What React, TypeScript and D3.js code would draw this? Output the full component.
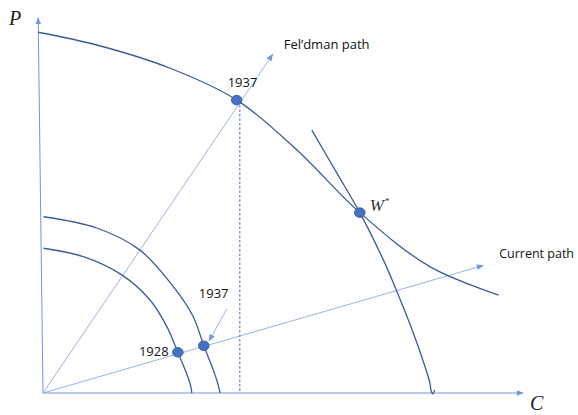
import React from "react";
import * as d3 from "d3";

// axes run 0..100 in both directions (consumption C, producer goods P)
const bigPpfC = [-1, 11.2, 26.5, 40.4, 52.9, 66.0, 80.6, 94.9];
const bigPpfP = [96.2, 92.8, 86.6, 78.1, 64.8, 48.1, 33.7, 26.1];

const indiffC = [56.0, 61.2, 66.0, 70.9, 73.3, 77.15, 79.6, 80.6, 80.9, 81.2, 81.6];
const indiffP = [70.1, 58.7, 48.1, 35.5, 28.4, 16.0, 7.0, 2.7, 0.4, -0.2, 0.8];

const ppf1937C = [0.1, 11.2, 20.2, 27.15, 31.3, 33.5, 35.5, 36.5, 36.9];
const ppf1937P = [47.0, 44.0, 38.1, 28.35, 20.35, 12.6, 6.1, 2.1, 0];

const ppf1928C = [0.1, 8.4, 16.4, 22.3, 25.8, 28.1, 29.9, 30.8, 31.0];
const ppf1928P = [38.6, 36.35, 31.5, 24.8, 17.7, 10.85, 5.25, 1.7, 0];

const feldmanEnd = [47.85, 90.3];
const currentEnd = [91.7, 34.0];
const dashedC = 41.0;
const dashedTop = 76.8;

const pointNames = ["1937top", "W", "1937low", "1928"];
const pointC = [40.35, 66.0, 33.5, 28.1];
const pointP = [78.1, 48.1, 12.6, 10.85];

const noteArrowFrom = [38.3, 22.4];
const noteArrowTo = [34.6, 13.9];

const W = 578;
const H = 415;

const x = d3.scaleLinear().domain([0, 100]).range([43, 523]);
const y = d3.scaleLinear().domain([0, 100]).range([393, 18]);

const curveColor = "#3A5A9C";
const axisColor = "#7396D8";
const pathColor = "#90ABDD";
const sans = "'Open Sans', 'Liberation Sans', sans-serif";
const serif = "'Liberation Serif', 'DejaVu Serif', serif";

const line = d3
  .line<[number, number]>()
  .x((d) => x(d[0]))
  .y((d) => y(d[1]))
  .curve(d3.curveCatmullRom.alpha(0.5));

const zip = (a: number[], b: number[]) =>
  a.map((v, i) => [v, b[i]] as [number, number]);

const App = () => {
  const pts = pointNames.map((n, i) => ({ n, cx: x(pointC[i]), cy: y(pointP[i]) }));
  const p = Object.fromEntries(pts.map((d) => [d.n, d]));

  return (
    <svg
      width={W}
      height={H}
      style={{ position: "absolute", left: 0, top: 0, background: "#fff" }}
    >
      <defs>
        <marker id="axArrow" viewBox="0 0 10 10" refX="9" refY="5" markerWidth="7" markerHeight="7" orient="auto">
          <path d="M0,1 L10,5 L0,9 z" fill={axisColor} />
        </marker>
        <marker id="pArrow" viewBox="0 0 10 10" refX="9" refY="5" markerWidth="8" markerHeight="8" orient="auto">
          <path d="M0,1 L10,5 L0,9 z" fill={axisColor} />
        </marker>
      </defs>

      {/* axes */}
      <line x1={x(0)} y1={y(0)} x2={x(-1)} y2={y(100)} stroke={axisColor} strokeWidth={1} markerEnd="url(#axArrow)" />
      <line x1={x(0)} y1={y(0)} x2={x(100)} y2={y(0)} stroke={axisColor} strokeWidth={1} markerEnd="url(#axArrow)" />

      {/* growth paths */}
      <line x1={x(0)} y1={y(0)} x2={x(feldmanEnd[0])} y2={y(feldmanEnd[1])} stroke={pathColor} strokeWidth={0.9} markerEnd="url(#pArrow)" />
      <line x1={x(0)} y1={y(0)} x2={x(currentEnd[0])} y2={y(currentEnd[1])} stroke={pathColor} strokeWidth={0.9} markerEnd="url(#pArrow)" />

      {/* dashed drop line */}
      <line x1={x(dashedC)} y1={y(dashedTop)} x2={x(dashedC)} y2={y(0)} stroke="#5B85D0" strokeWidth={1.2} strokeDasharray="2.5,2" />

      {/* curves */}
      <path d={line(zip(bigPpfC, bigPpfP)) || ""} fill="none" stroke={curveColor} strokeWidth={1.3} />
      <path d={line(zip(indiffC, indiffP)) || ""} fill="none" stroke={curveColor} strokeWidth={1.3} />
      <path d={line(zip(ppf1937C, ppf1937P)) || ""} fill="none" stroke={curveColor} strokeWidth={1.3} />
      <path d={line(zip(ppf1928C, ppf1928P)) || ""} fill="none" stroke={curveColor} strokeWidth={1.3} />

      {/* note arrow to lower 1937 point */}
      <line
        x1={x(noteArrowFrom[0])}
        y1={y(noteArrowFrom[1])}
        x2={x(noteArrowTo[0])}
        y2={y(noteArrowTo[1])}
        stroke={pathColor}
        strokeWidth={0.9}
        markerEnd="url(#pArrow)"
      />

      {/* points */}
      {pts.map((d) => (
        <ellipse key={d.n} cx={d.cx} cy={d.cy} rx={5.3} ry={4.8} fill="#4472C4" stroke="#2F528F" strokeWidth={0.8} />
      ))}

      {/* labels */}
      <text x={p["1937top"].cx - 9} y={p["1937top"].cy - 13} fontFamily={sans} fontSize={13} fill="#111">1937</text>
      <text x={p["1937low"].cx - 5} y={p["1937low"].cy - 48} fontFamily={sans} fontSize={13} fill="#111">1937</text>
      <text x={p["1928"].cx - 39} y={p["1928"].cy + 4} fontFamily={sans} fontSize={13} fill="#111">1928</text>
      <text x={x(feldmanEnd[0]) + 11} y={y(feldmanEnd[1]) - 5} fontFamily={sans} fontSize={13} fill="#111">Fel’dman path</text>
      <text x={x(currentEnd[0]) + 16} y={y(currentEnd[1]) - 8} fontFamily={sans} fontSize={12.5} fill="#111">Current path</text>

      <text x={p["W"].cx + 10} y={p["W"].cy - 2} fontFamily={serif} fontStyle="italic" fontSize={17} fill="#333">
        W<tspan dx={1} dy={-7} fontSize={9} fontStyle="normal">*</tspan>
      </text>
      <text x={9} y={25} fontFamily={serif} fontStyle="italic" fontSize={20} fill="#222">P</text>
      <text x={530} y={410} fontFamily={serif} fontStyle="italic" fontSize={20} fill="#222">C</text>
    </svg>
  );
};

export default App;
